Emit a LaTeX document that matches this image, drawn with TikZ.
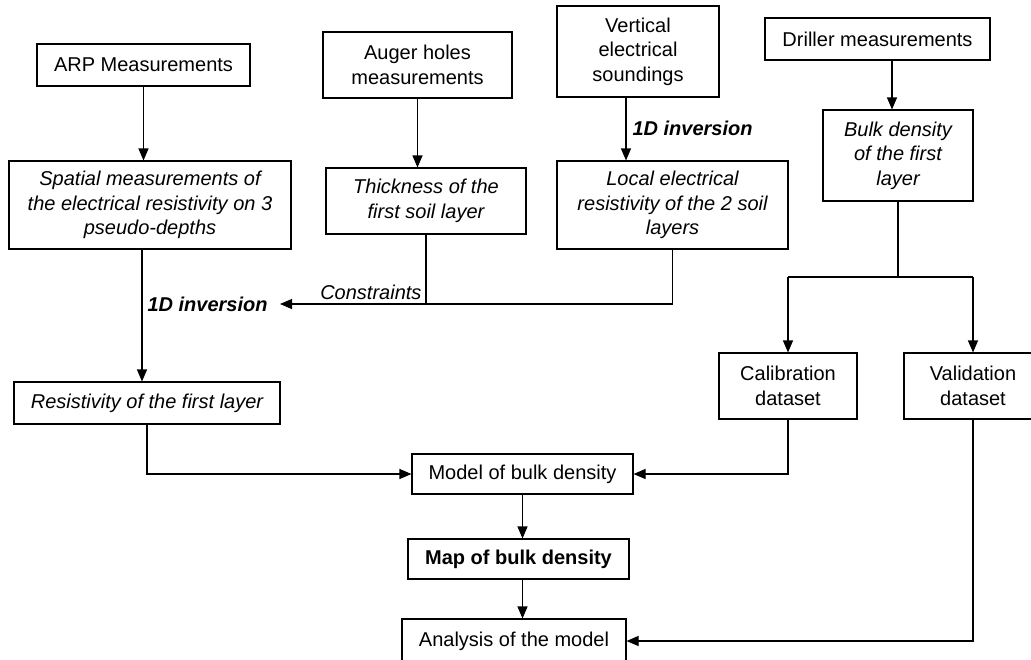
\documentclass[tikz,border=0pt]{standalone}
\usepackage{fontspec}
\setmainfont{Liberation Sans}
\usetikzlibrary{arrows.meta}

\begin{document}
\begin{tikzpicture}[x=1pt,y=-1pt,line width=1.1pt,
    box/.style={draw, align=center, inner sep=0pt, font=\fontsize{20}{24.5}\selectfont},
    lbl/.style={inner sep=0pt, font=\fontsize{20}{24.5}\selectfont},
    link/.style={-{Triangle[length=12pt,width=10pt]}}]
    \useasboundingbox (0,0) rectangle (1031,659);

    \node[box, minimum width=213pt, minimum height=42pt] (arp) at (143.5,65) {ARP Measurements};
    \node[box, minimum width=189pt, minimum height=66pt] (auger) at (417.5,65) {Auger holes\\measurements};
    \node[box, minimum width=162pt, minimum height=91pt] (ves) at (638,51.5) {Vertical\\electrical\\soundings};
    \node[box, minimum width=225pt, minimum height=42pt] (driller) at (877.5,39) {Driller measurements};

    \node[box, minimum width=282pt, minimum height=88pt, font=\fontsize{20}{24.5}\selectfont\itshape] (spatial) at (150,205) {Spatial measurements of\\the electrical resistivity on 3\\pseudo-depths};
    \node[box, minimum width=200pt, minimum height=66pt, font=\fontsize{20}{24.5}\selectfont\itshape] (thick) at (426,201) {Thickness of the\\first soil layer};
    \node[box, minimum width=231pt, minimum height=88pt, font=\fontsize{20}{24.5}\selectfont\itshape] (local) at (672.5,205) {Local electrical\\resistivity of the 2 soil\\layers};
    \node[box, minimum width=150pt, minimum height=91pt, font=\fontsize{20}{24.5}\selectfont\itshape] (bulk) at (898,155.5) {Bulk density\\of the first\\layer};

    \node[box, minimum width=266pt, minimum height=42pt, font=\fontsize{20}{24.5}\selectfont\itshape] (res) at (147,403) {Resistivity of the first layer};
    \node[box, minimum width=138pt, minimum height=66pt] (cal) at (788,386) {Calibration\\dataset};
    \node[box, minimum width=138pt, minimum height=66pt] (val) at (973,386) {Validation\\dataset};

    \node[box, minimum width=221pt, minimum height=40pt] (model) at (522.5,474) {Model of bulk density};
    \node[box, minimum width=221pt, minimum height=40pt, font=\fontsize{20}{24.5}\selectfont\bfseries] (map) at (518.5,559) {Map of bulk density};
    \node[box, minimum width=224pt, minimum height=44pt] (ana) at (514,641) {Analysis of the model};

    \coordinate (S1) at (142,0); % spatial -> resistivity
    \coordinate (V1) at (626,0); % soundings -> local
    \coordinate (D1) at (892,0); % driller -> bulk
    \coordinate (J1) at (898,277); % split of the datasets
    \coordinate (C1) at (280,304); % constraints tip

    \node[lbl, anchor=west, font=\fontsize{20}{24.5}\selectfont\bfseries\itshape] (inv1) at (632,128) {1D inversion};
    \node[lbl, anchor=west, font=\fontsize{20}{24.5}\selectfont\bfseries\itshape] (inv2) at (147,304) {1D inversion};
    \node[lbl, anchor=south east, font=\fontsize{20}{24.5}\selectfont\itshape] (cons) at (422,300) {Constraints};

    \draw[link] (arp) -- (arp |- spatial.north);
    \draw[link] (auger) -- (auger |- thick.north);
    \draw[link] (ves.south -| V1) -- (local.north -| V1);
    \draw[link] (driller.south -| D1) -- (bulk.north -| D1);

    \draw[link] (spatial.south -| S1) -- (res.north -| S1);
    \draw (thick.south) -- (thick.south |- C1);
    \draw[link] (local.south) |- (C1);

    \draw (bulk.south) -- (J1);
    \draw (cal |- J1) -- (val |- J1);
    \draw[link] (cal |- J1) -- (cal.north);
    \draw[link] (val |- J1) -- (val.north);

    \draw[link] (res.south) |- (model.west);
    \draw[link] (cal.south) |- (model.east);
    \draw[link] (model.south) -- (model.south |- map.north);
    \draw[link] (model.south |- map.south) -- (model.south |- ana.north);
    \draw[link] (val.south) |- (ana.east);
\end{tikzpicture}
\end{document}
